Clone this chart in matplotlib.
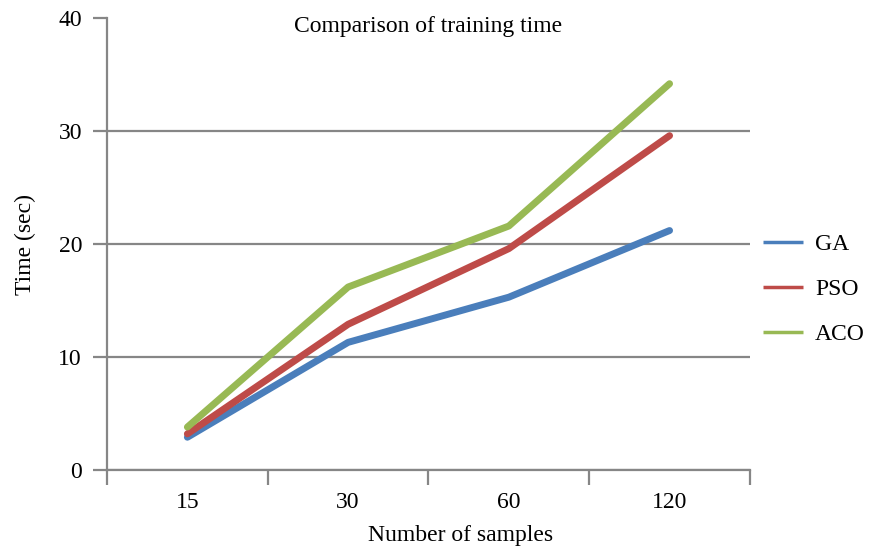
import matplotlib.pyplot as plt
import numpy as np

categories = ['15', '30', '60', '120']
ga = [2.9, 11.3, 15.3, 21.2]
pso = [3.2, 12.9, 19.6, 29.6]
aco = [3.8, 16.2, 21.6, 34.2]

plt.rcParams['font.family'] = ['Liberation Serif', 'DejaVu Serif']

fig = plt.figure(figsize=(8.7, 5.51), dpi=100)
ax = fig.add_axes([0.123, 0.147, 0.739, 0.82])

x = np.arange(len(categories))
grid_color = '#868686'
for name, vals, color in [('GA', ga, '#4A7EBB'), ('PSO', pso, '#BE4B48'), ('ACO', aco, '#98B954')]:
    ax.plot(x, vals, color=color, lw=5, solid_capstyle='round', label=name, zorder=3)

ax.set_xlim(-0.5, len(categories) - 0.5)
ax.set_ylim(0, 40)
ax.set_yticks([0, 10, 20, 30, 40])
ax.yaxis.grid(True, color=grid_color, lw=1.6)
ax.set_axisbelow(True)
# no gridline at the top value
ax.get_ygridlines()[-1].set_visible(False)

ax.set_xticks(x)
ax.set_xticklabels(categories)
ax.set_xticks(np.arange(-0.5, len(categories)), minor=True)
ax.tick_params(axis='x', which='major', length=0, pad=16, labelsize=17)
ax.tick_params(axis='x', which='minor', length=11, width=1.6, color=grid_color)
ax.tick_params(axis='y', length=10, width=1.6, color=grid_color, labelsize=17, pad=8)

for side in ['top', 'right']:
    ax.spines[side].set_visible(False)
for side in ['left', 'bottom']:
    ax.spines[side].set_color(grid_color)
    ax.spines[side].set_linewidth(1.6)

ax.set_title('Comparison of training time', fontsize=17, y=0.95)
ax.set_xlabel('Number of samples', fontsize=17)
ax.xaxis.set_label_coords(0.55, -0.122)
ax.set_ylabel('Time (sec)', fontsize=17)
ax.yaxis.set_label_coords(-0.11, 0.5)

leg = fig.legend(loc='center left', bbox_to_anchor=(0.877, 0.475), frameon=False, fontsize=17,
                 handlelength=1.7, labelspacing=1.0, handletextpad=0.5, borderaxespad=0, borderpad=0)
for line in leg.get_lines():
    line.set_linewidth(2.5)
    line.set_solid_capstyle('butt')

fig.savefig('out.png', dpi=100)
